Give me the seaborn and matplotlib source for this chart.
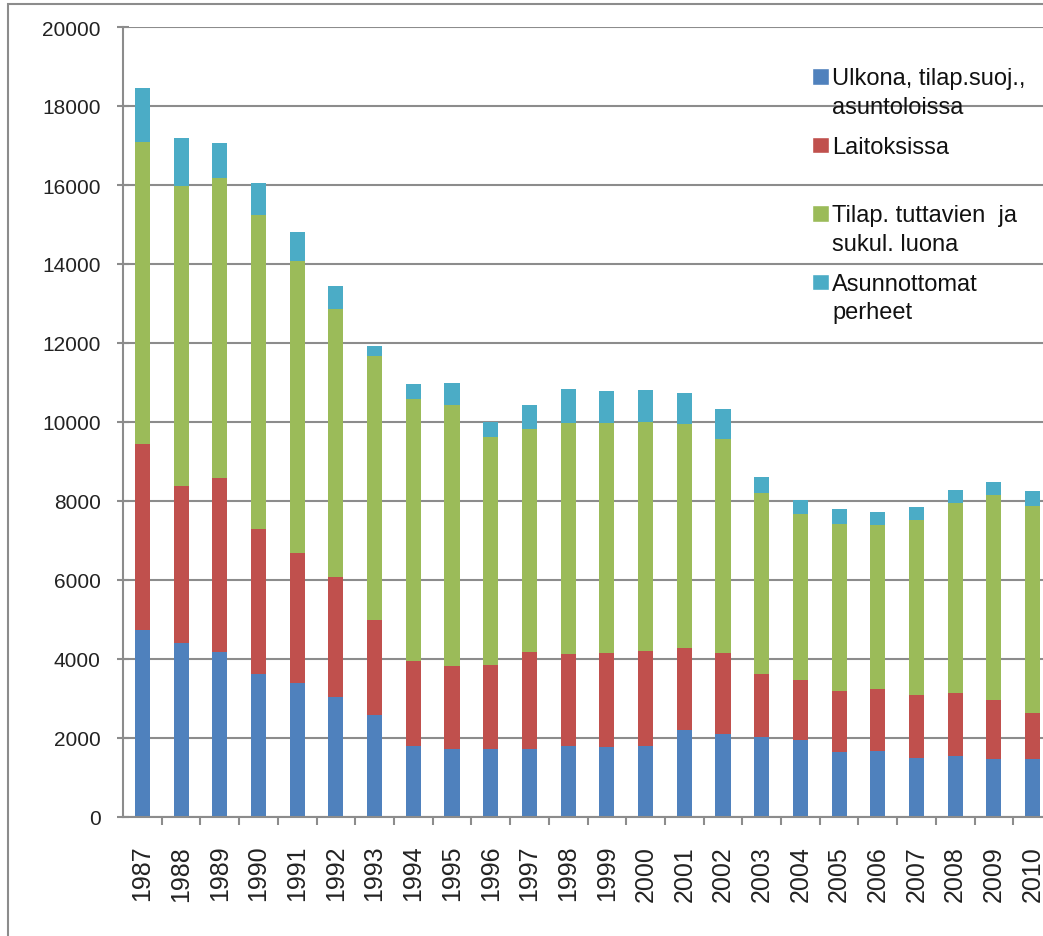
import pandas as pd
import numpy as np
import seaborn as sns
import matplotlib.pyplot as plt
from matplotlib.patches import Patch, Rectangle
from matplotlib.legend_handler import HandlerPatch


# Data

years = ["1987", "1988", "1989", "1990", "1991", "1992", "1993", "1994",
         "1995", "1996", "1997", "1998", "1999", "2000", "2001", "2002",
         "2003", "2004", "2005", "2006", "2007", "2008", "2009", "2010"]

ulkona = [4730, 4410, 4180, 3630, 3400, 3040, 2580, 1790, 1730, 1730, 1730, 1790,
          1780, 1800, 2190, 2090, 2030, 1940, 1650, 1680, 1500, 1540, 1480, 1460]
laitoksissa = [4710, 3970, 4390, 3650, 3290, 3040, 2400, 2150, 2090, 2130, 2450, 2340,
               2360, 2400, 2080, 2050, 1590, 1540, 1540, 1550, 1580, 1610, 1480, 1180]
tuttavien = [7650, 7600, 7610, 7960, 7390, 6790, 6690, 6630, 6610, 5750, 5640, 5850,
             5840, 5800, 5690, 5430, 4570, 4180, 4220, 4160, 4450, 4810, 5190, 5230]
perheet = [1370, 1220, 890, 820, 720, 580, 260, 390, 560, 380, 610, 850,
           810, 800, 780, 770, 420, 360, 400, 320, 310, 310, 340, 380]

labels = ["Ulkona, tilap.suoj.,\nasuntoloissa",
          "Laitoksissa\n ",
          "Tilap. tuttavien  ja\nsukul. luona",
          "Asunnottomat\nperheet"]
colors = ["#4F81BD", "#C0504D", "#9BBB59", "#4BACC6"]

df = pd.DataFrame({"vuosi": years, "ulkona": ulkona, "laitoksissa": laitoksissa,
                   "tuttavien": tuttavien, "perheet": perheet})
cols = ["ulkona", "laitoksissa", "tuttavien", "perheet"]
cum = df[cols].cumsum(axis=1)
for i, c in enumerate(cols):
    df["cum" + str(i)] = cum[c]


# Plot

sns.set_theme(style="white")
plt.rcParams["font.family"] = ["Liberation Sans", "DejaVu Sans"]

W, H = 1043, 937
fig = plt.figure(figsize=(W / 100, H / 100), dpi=100)
ax = fig.add_axes([123 / W, 1 - 818 / H, 929 / W, 790 / H])

# stacked bars: draw the running totals from top to bottom
for i in [3, 2, 1, 0]:
    sns.barplot(data=df, x="vuosi", y="cum" + str(i), color=colors[i],
                saturation=1, width=0.39, errorbar=None, linewidth=0, ax=ax)

grey = "#8c8c8c"
ax.set_xlim(-0.5, 23.5)
ax.set_ylim(0, 20000)
ax.set_yticks(np.arange(0, 20001, 2000))
ax.set_xlabel("")
ax.set_ylabel("")
ax.set_axisbelow(True)
ax.yaxis.grid(True, color=grey, linewidth=1.5)
ax.xaxis.grid(False)
for s in ["top", "right"]:
    ax.spines[s].set_visible(False)
for s in ["left", "bottom"]:
    ax.spines[s].set_color(grey)
    ax.spines[s].set_linewidth(1.5)

ax.set_xticks(np.arange(0.5, 23.5, 1), minor=True)
ax.tick_params(axis="x", which="minor", bottom=True, direction="out",
               length=6, width=1.5, color=grey)
ax.tick_params(axis="x", which="major", length=0, pad=20, labelsize=18,
               labelrotation=90, labelcolor="#222222")
ax.tick_params(axis="y", left=True, direction="inout", length=8, width=1.5,
               color=grey, labelsize=15, pad=12, labelcolor="#222222")


def square(legend, orig_handle, xdescent, ydescent, width, height, fontsize):
    return Rectangle((-xdescent, -ydescent + 0.68 * fontsize), width, height)


handles = [Patch(facecolor=c, label=l) for c, l in zip(colors, labels)]
leg = ax.legend(handles=handles, loc="upper left",
                bbox_to_anchor=(812 / W, 1 - 68 / H), bbox_transform=fig.transFigure,
                frameon=False, fontsize=17, handlelength=0.7, handleheight=0.7,
                handletextpad=0.15, labelspacing=0.75, borderpad=0, borderaxespad=0,
                handler_map={Patch: HandlerPatch(patch_func=square)})
for t in leg.get_texts():
    t.set_linespacing(1.4)
    t.set_color("#111111")

# thin frame round the picture
fig.add_artist(Rectangle((8 / W, -0.01), 1.1, 1.01 - 5 / H, transform=fig.transFigure,
                         fill=False, edgecolor=grey, linewidth=1.5))

fig.savefig("out.png", dpi=100)
